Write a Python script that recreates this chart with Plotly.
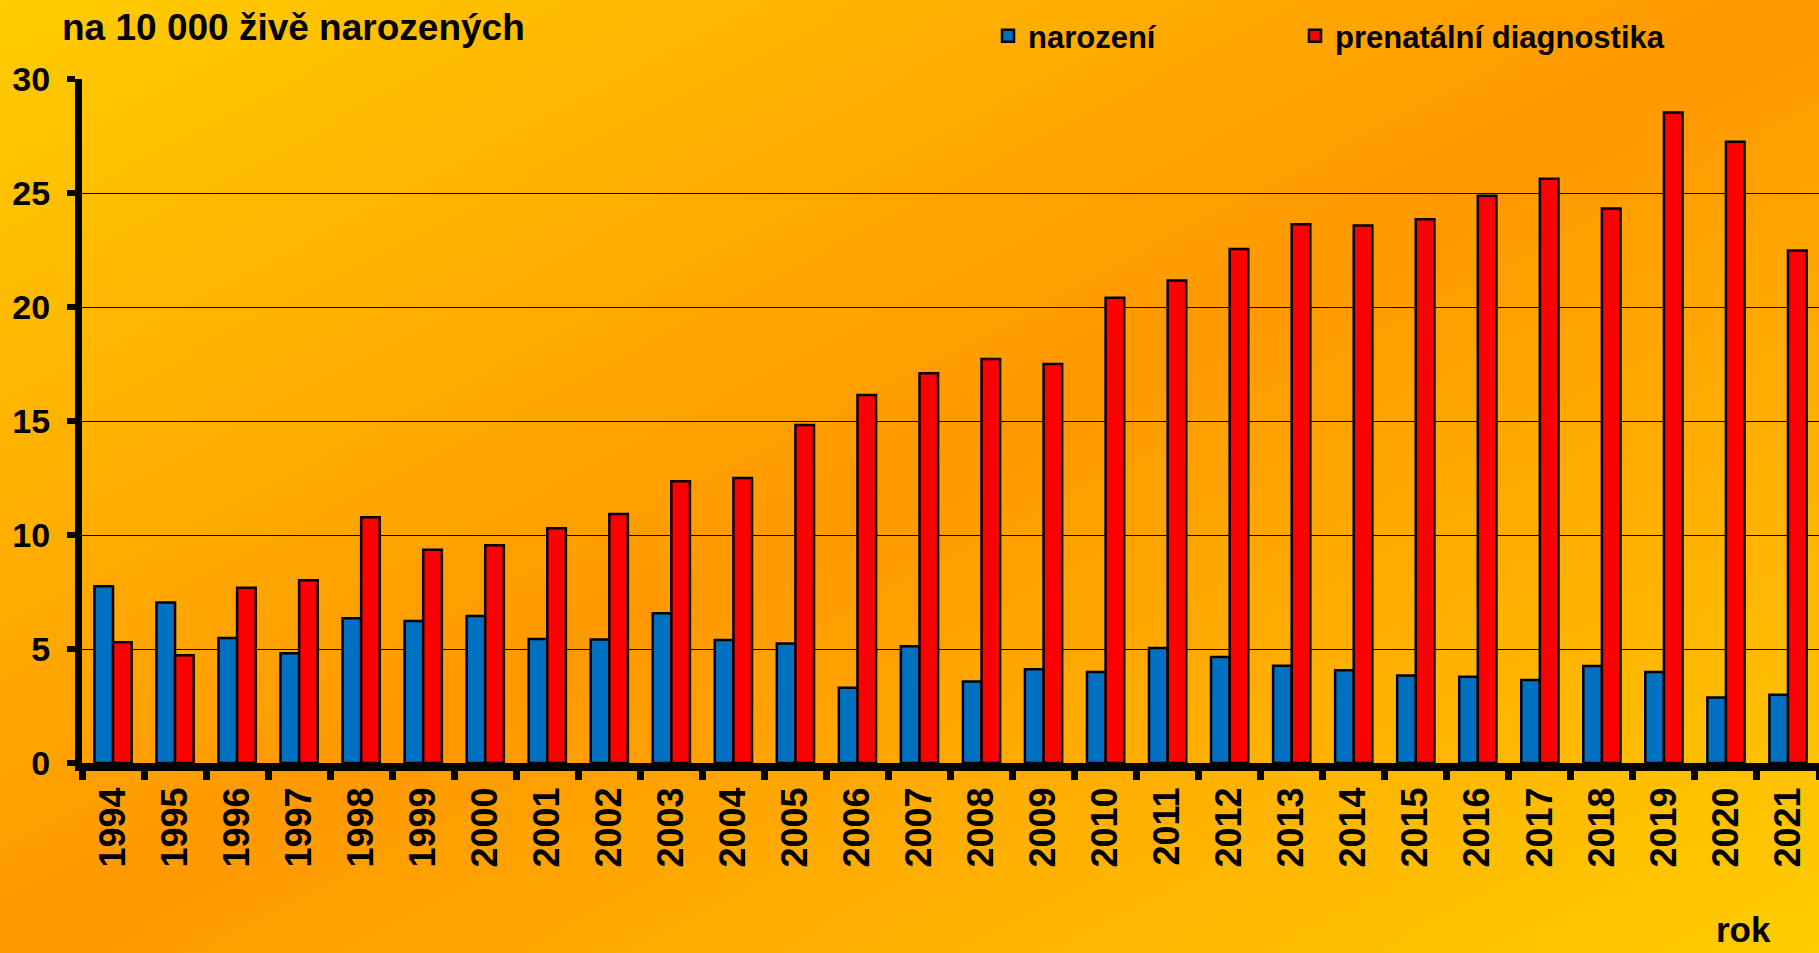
import base64
import plotly.graph_objects as go

years = [str(y) for y in range(1994, 2022)]
narozeni = [7.75, 7.04, 5.48, 4.81, 6.35, 6.23, 6.45, 5.44, 5.42, 6.57,
            5.40, 5.24, 3.30, 5.12, 3.58, 4.11, 3.99, 5.04, 4.65, 4.27,
            4.07, 3.84, 3.78, 3.64, 4.25, 3.99, 2.87, 2.99]
prenatalni = [5.30, 4.73, 7.69, 8.01, 10.78, 9.35, 9.55, 10.30, 10.92, 12.36,
              12.50, 14.83, 16.14, 17.09, 17.72, 17.50, 20.41, 21.16, 22.54, 23.63,
              23.57, 23.85, 24.88, 25.63, 24.32, 28.53, 27.25, 22.48]
y_ticks = [0, 5, 10, 15, 20, 25, 30]

W, H = 1819, 953
L, R, T, B = 82, 0, 79, 190
PW, PH = W - L - R, H - T - B
FONT = "Liberation Sans, Arial, sans-serif"


def px(x):
    return (x - L) / PW


def py(y):
    return (H - B - y) / PH


svg = (
    "<svg xmlns='http://www.w3.org/2000/svg' width='1819' height='953' preserveAspectRatio='none'>"
    "<defs><linearGradient id='g' x1='0' y1='0' x2='1' y2='1'>"
    "<stop offset='0' stop-color='#FFCC00'/>"
    "<stop offset='0.5' stop-color='#FF9900'/>"
    "<stop offset='1' stop-color='#FFCC00'/>"
    "</linearGradient></defs>"
    "<rect width='1819' height='953' fill='url(#g)'/></svg>"
)
bg_src = "data:image/svg+xml;base64," + base64.b64encode(svg.encode()).decode()

fig = go.Figure()
fig.add_trace(go.Bar(x=years, y=narozeni, name="narození", legend="legend", showlegend=True,
                     marker=dict(color="#0070C0", line=dict(color="black", width=2.5))))
fig.add_trace(go.Bar(x=years, y=prenatalni, name="prenatální diagnostika", legend="legend2",
                     showlegend=True,
                     marker=dict(color="#FF0000", line=dict(color="black", width=2.5))))

legend_font = dict(family=FONT, size=31, weight="bold", color="black")

fig.update_layout(
    width=W, height=H,
    showlegend=True,
    margin=dict(l=L, r=R, t=T, b=B, pad=0),
    paper_bgcolor="#FF9900",
    plot_bgcolor="rgba(0,0,0,0)",
    barmode="group",
    bargap=0.4,
    bargroupgap=0,
    font=dict(family=FONT, color="black"),
    images=[dict(source=bg_src, xref="paper", yref="paper",
                 x=px(0), y=py(0), sizex=W / PW, sizey=H / PH,
                 sizing="stretch", layer="below", xanchor="left", yanchor="top")],
    legend=dict(orientation="h", x=px(988), y=py(36), xanchor="left", yanchor="middle",
                font=legend_font, bgcolor="rgba(0,0,0,0)", visible=True),
    legend2=dict(orientation="h", x=px(1295), y=py(36), xanchor="left", yanchor="middle",
                 font=legend_font, bgcolor="rgba(0,0,0,0)", visible=True),
    xaxis=dict(type="category", showline=True, linecolor="black", linewidth=8,
               ticks="outside", tickson="boundaries", ticklen=9, tickwidth=7, tickcolor="black",
               tickangle=-90, tickfont=dict(family=FONT, size=36, weight="bold", color="black"),
               ticklabelstandoff=2, showgrid=False, fixedrange=True),
    yaxis=dict(range=[0, 30], tickvals=y_ticks, showline=True, linecolor="black", linewidth=7,
               ticks="outside", ticklen=8, tickwidth=6, tickcolor="black",
               tickfont=dict(family=FONT, size=34, weight="bold", color="black"),
               ticklabelstandoff=10,
               showgrid=True, gridcolor="black", gridwidth=1.2, zeroline=False, fixedrange=True),
    annotations=[
        dict(text="na 10 000 živě narozených", xref="paper", yref="paper",
             x=px(60), y=py(27), xanchor="left", yanchor="middle", showarrow=False,
             font=dict(family=FONT, size=37, weight="bold", color="black")),
        dict(text="rok", xref="paper", yref="paper",
             x=px(1714), y=py(929), xanchor="left", yanchor="middle", showarrow=False,
             font=dict(family=FONT, size=35, weight="bold", color="black")),
    ],
)

fig.write_html("out.html", config={"displayModeBar": False},
               post_script="document.body.style.margin='0px';document.body.style.overflow='hidden';")
